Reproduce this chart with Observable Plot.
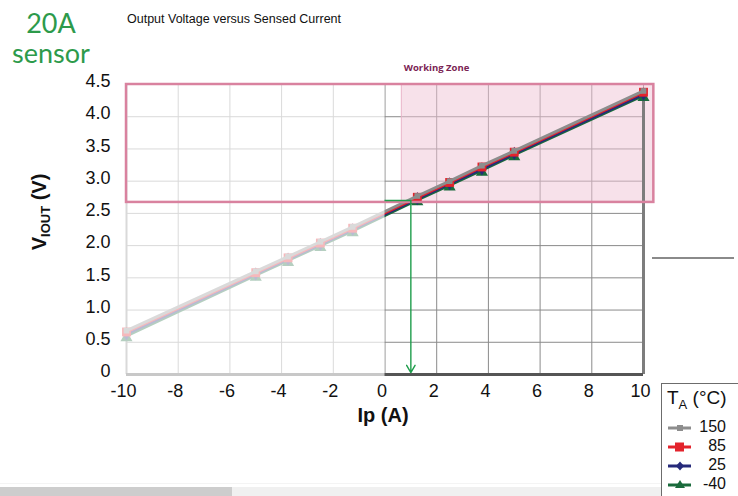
<!DOCTYPE html>
<html><head><meta charset="utf-8">
<script src="https://cdn.jsdelivr.net/npm/d3@7"></script>
<script src="https://cdn.jsdelivr.net/npm/@observablehq/plot@0.6"></script>
<style>
body{margin:0;background:#fff;width:738px;height:496px;overflow:hidden;position:relative;font-family:"Liberation Sans",Arial,sans-serif;}
#chart{position:absolute;left:0;top:0;}
.abs{position:absolute;white-space:nowrap;}
.sensor{left:0;width:102px;text-align:center;font-family:Lato,sans-serif;font-size:27px;line-height:27px;height:27px;color:#2d9a4b;}
#s1{top:9px;}
#s2{top:39px;}
#title{left:127px;top:12px;font-size:12.5px;color:#111;}
#ylab{left:40px;top:212px;transform:translate(-50%,-50%) rotate(-90deg);font-weight:bold;font-size:20px;color:#111;}
#ylab sub{font-size:13px;vertical-align:-4px;}
#xlab{left:383px;top:404px;transform:translateX(-50%);font-weight:bold;font-size:20px;color:#111;}
#legend{left:661px;top:383px;width:90px;height:130px;border:1.5px solid #6c6c6c;box-sizing:border-box;background:#fff;}
#legend .t{position:absolute;left:5px;top:3px;font-size:19px;line-height:22px;color:#111;}
#legend .t sub{font-size:13px;vertical-align:-5px;line-height:10px;}
#legend .row{position:absolute;left:6px;width:58px;height:18px;}
#legend .row svg{position:absolute;left:0;top:3px;}
#legend .row span{position:absolute;right:0;top:-1px;font-size:16px;color:#111;line-height:17px;}
#hline{left:652px;top:257px;width:82px;height:2px;background:#8a8a8a;}
#sb1{left:0;top:487px;width:232px;height:9px;background:#cdcdcd;}
#sb2{left:232px;top:487px;width:506px;height:9px;background:#f0f0f0;}
#sb0{left:0;top:483px;width:738px;height:1px;background:#f4f4f4;}
</style></head><body>
<div id="chart"></div>
<div class="abs sensor" id="s1">20A</div>
<div class="abs sensor" id="s2">sensor</div>
<div class="abs" id="title">Output Voltage versus Sensed Current</div>
<div class="abs" id="ylab">V<sub>IOUT</sub> (V)</div>
<div class="abs" id="xlab">Ip (A)</div>
<div class="abs" id="hline"></div>
<div class="abs" id="sb0"></div>
<div class="abs" id="sb1"></div>
<div class="abs" id="sb2"></div>
<div class="abs" id="legend"></div>
<script>
// ---- data ----
const currents = [-10, -5, -3.75, -2.5, -1.25, 1.25, 2.5, 3.75, 5, 10];
const temps = ["150", "85", "25", "-40"];
const v150 = [0.68, 1.60, 1.83, 2.06, 2.29, 2.77, 3.00, 3.24, 3.47, 4.40];
const v85  = [0.66, 1.58, 1.81, 2.04, 2.27, 2.75, 2.98, 3.22, 3.45, 4.38];
const v25  = [0.63, 1.56, 1.79, 2.02, 2.25, 2.73, 2.96, 3.19, 3.43, 4.35];
const vm40 = [0.60, 1.54, 1.77, 2.00, 2.23, 2.71, 2.94, 3.17, 3.41, 4.33];
const xTicks = [-10, -8, -6, -4, -2, 0, 2, 4, 6, 8, 10];
const xTickLabels = ["-10", "-8", "-6", "-4", "-2", "0", "2", "4", "6", "8", "10"];
const yTicks = [0, 0.5, 1, 1.5, 2, 2.5, 3, 3.5, 4, 4.5];
const yTickLabels = ["0", "0.5", "1.0", "1.5", "2.0", "2.5", "3.0", "3.5", "4.0", "4.5"];
// annotations
const zoneI = [0.65, 10.4];     // filled working zone (A)
const boxI = [-10, 10.4];       // outlined box (A)
const zoneV = [2.67, 4.5];      // working zone voltage band (V)
const fadeI = [-10.25, 0];      // washed-out negative-current region
const fadeV = [-0.05, 4.5];
const arrowI = 1.0;             // current where the green marker drops
const arrowV = [2.70, 0.03];

const colors = ["#8d8d8d", "#e3232c", "#262a7a", "#1a6b3c"];
const series = [v150, v85, v25, vm40];
const rows = temps.flatMap((t, k) => currents.map((c, i) => ({I: c, V: series[k][i], T: t})));
const xLab = new Map(xTicks.map((t, i) => [t, xTickLabels[i]]));
const yLab = new Map(yTicks.map((t, i) => [t, yTickLabels[i]]));
const bySeries = t => rows.filter(d => d.T === t);

const chart = Plot.plot({
  width: 738, height: 496,
  marginLeft: 126, marginRight: 95, marginTop: 84, marginBottom: 122,
  x: {domain: [-10, 10], label: null},
  y: {domain: [0, 4.5], label: null},
  color: {domain: temps, range: colors},
  style: {background: "white", fontFamily: "Liberation Sans, Arial, sans-serif", color: "#111"},
  marks: [
    // grid
    Plot.ruleX(xTicks, {y1: 0, y2: 4.5, stroke: "#8a8a8a", strokeWidth: 1}),
    Plot.ruleY(yTicks, {x1: -10, x2: 10, stroke: "#8a8a8a", strokeWidth: 1}),
    // working zone fill
    Plot.rect([0], {x1: zoneI[0], x2: zoneI[1], y1: zoneV[0], y2: zoneV[1], fill: "#f0c3d6", fillOpacity: 0.5, stroke: "#e9b3c9", strokeWidth: 1}),
    // axis frame lines
    Plot.ruleX([-10], {y1: 0, y2: 4.5, stroke: "#888", strokeWidth: 2}),
    Plot.ruleX([10], {y1: 0, y2: 4.4, stroke: "#7d7d7d", strokeWidth: 3}),
    Plot.ruleY([0], {x1: -10, x2: 10, stroke: "#555", strokeWidth: 3}),
    // data lines (lowest first)
    Plot.line(bySeries("-40"), {x: "I", y: "V", stroke: "T", strokeWidth: 3}),
    Plot.dot(bySeries("-40"), {x: "I", y: "V", symbol: "triangle", r: 4.5, fill: colors[3], dy: 2}),
    Plot.line(bySeries("25"), {x: "I", y: "V", stroke: "T", strokeWidth: 3}),
    Plot.dot(bySeries("25"), {x: "I", y: "V", symbol: "diamond", r: 4, fill: colors[2]}),
    Plot.line(bySeries("85"), {x: "I", y: "V", stroke: "T", strokeWidth: 3}),
    Plot.dot(bySeries("85"), {x: "I", y: "V", symbol: "square", r: 5, fill: colors[1]}),
    Plot.line(bySeries("150"), {x: "I", y: "V", stroke: "T", strokeWidth: 3}),
    Plot.dot(bySeries("150"), {x: "I", y: "V", symbol: "square", r: 3.2, fill: colors[0]}),
    // wash-out of the negative side
    Plot.rect([0], {x1: fadeI[0], x2: fadeI[1], y1: fadeV[0], y2: fadeV[1], fill: "white", fillOpacity: 0.68}),
    // outlined box
    Plot.rect([0], {x1: boxI[0], x2: boxI[1], y1: zoneV[0], y2: zoneV[1], fill: "none", stroke: "#d9829f", strokeWidth: 2.5}),
    // green marker
    Plot.ruleY([arrowV[0]], {x1: 0, x2: arrowI, stroke: "#1f9d4c", strokeWidth: 1.5}),
    Plot.arrow([0], {x1: arrowI, y1: arrowV[0], x2: arrowI, y2: arrowV[1], stroke: "#1f9d4c", strokeWidth: 1.4, headLength: 9}),
    // label
    Plot.text(["Working Zone"], {x: zoneI[0], y: 4.75, text: d => d, textAnchor: "start", dx: 2, fill: "#7b2454", fontSize: 9.5, fontWeight: "bold", fontFamily: "Open Sans, sans-serif"}),
    // axes
    Plot.axisX({ticks: xTicks, tickSize: 0, tickPadding: 10, fontSize: 18, tickFormat: d => xLab.get(d), dx: -3, label: null}),
    Plot.axisY({ticks: yTicks, tickSize: 0, tickPadding: 16, fontSize: 18, tickFormat: d => yLab.get(d), dy: -3, label: null})
  ]
});
document.getElementById("chart").append(chart);

// legend
const legend = document.getElementById("legend");
legend.innerHTML = '<div class="t">T<sub>A</sub> (°C)</div>';
const symbolsSvg = [
  c => `<rect x="9" y="3" width="6" height="6" fill="${c}"/>`,
  c => `<rect x="7" y="1.5" width="9" height="9" fill="${c}"/>`,
  c => `<path d="M12 1.5 L16 6 L12 10.5 L8 6 Z" fill="${c}"/>`,
  c => `<path d="M12 1 L17 9 L7 9 Z" fill="${c}"/>`
];
const rowTops = [35, 54, 73, 92];
temps.forEach((t, k) => {
  const row = document.createElement("div");
  row.className = "row";
  row.style.top = rowTops[k] + "px";
  row.innerHTML = `<svg width="24" height="12"><line x1="0" y1="6" x2="23" y2="6" stroke="${colors[k]}" stroke-width="3"/>${symbolsSvg[k](colors[k])}</svg><span>${t}</span>`;
  legend.append(row);
});
</script>
</body></html>
